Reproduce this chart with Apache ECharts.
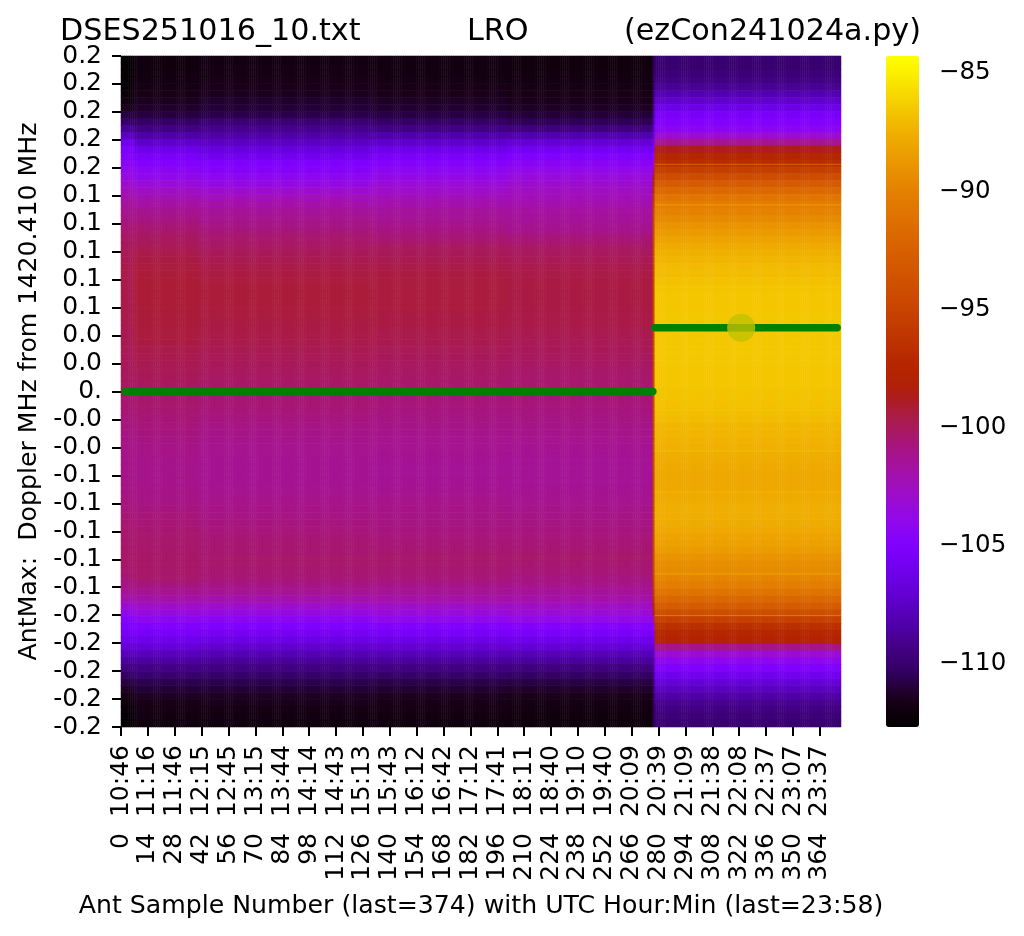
<!DOCTYPE html>
<html><head><meta charset="utf-8">
<style>html,body{margin:0;padding:0;background:#fff}#c{width:1024px;height:936px}</style>
<script src="https://cdn.jsdelivr.net/npm/echarts@6/dist/echarts.min.js"></script>
</head><body><div id="c"></div>
<script>
// Power (dB) by spectrum row, top row first for each block of samples.
const edgeSamples = [
-112.4,-112.4,-112.4,-112.4,-112.3,-112.1,-111.9,-111.5,-110.9,-110.2,
-108.9,-107.6,-106.0,-105.2,-104.8,-104.4,-104.0,-103.5,-102.9,-102.4,
-101.9,-101.5,-101.2,-100.9,-100.6,-100.4,-100.2,-100.0,-99.9,-99.8,
-99.7,-99.7,-99.7,-99.7,-99.7,-99.7,-99.7,-99.7,-99.7,-99.8,
-99.8,-99.8,-99.9,-99.9,-100.0,-100.0,-100.1,-100.2,-100.3,-100.4,
-100.5,-100.6,-100.7,-100.8,-100.9,-100.9,-101.0,-101.0,-101.0,-101.0,
-101.0,-101.0,-100.9,-100.9,-100.8,-100.7,-100.6,-100.5,-100.5,-100.4,
-100.4,-100.3,-100.3,-100.3,-100.4,-100.6,-100.9,-101.4,-102.0,-103.0,
-103.9,-104.7,-105.2,-105.6,-106.2,-107.0,-107.8,-108.7,-109.5,-110.2,
-110.8,-111.3,-111.7,-112.0,-112.2,-112.4,-112.4];
const earlySamples = [
-111.9,-111.9,-111.8,-111.8,-111.7,-111.6,-111.4,-111.2,-110.9,-110.2,
-109.4,-108.4,-107.3,-106.2,-105.4,-104.9,-104.4,-103.9,-103.3,-102.7,
-102.2,-101.7,-101.3,-100.9,-100.6,-100.3,-100.1,-99.9,-99.7,-99.5,
-99.4,-99.3,-99.2,-99.2,-99.2,-99.2,-99.3,-99.3,-99.3,-99.4,
-99.4,-99.5,-99.6,-99.7,-99.8,-99.9,-100.0,-100.1,-100.2,-100.3,
-100.4,-100.5,-100.6,-100.7,-100.8,-100.9,-101.0,-101.0,-101.1,-101.1,
-101.1,-101.1,-101.0,-101.0,-100.9,-100.8,-100.7,-100.6,-100.5,-100.4,
-100.4,-100.3,-100.3,-100.3,-100.3,-100.4,-100.8,-101.3,-101.9,-102.7,
-103.5,-104.3,-104.9,-105.5,-106.1,-106.9,-107.7,-108.6,-109.4,-110.0,
-110.6,-111.0,-111.3,-111.6,-111.7,-111.8,-111.9];
const midSamples = [
-111.8,-111.7,-111.7,-111.6,-111.5,-111.4,-111.2,-111.0,-110.7,-109.9,
-109.1,-108.4,-107.6,-106.7,-105.9,-105.1,-104.7,-104.2,-103.6,-103.0,
-102.4,-101.9,-101.5,-101.2,-100.9,-100.6,-100.4,-100.2,-100.0,-99.8,
-99.6,-99.5,-99.4,-99.3,-99.3,-99.3,-99.4,-99.4,-99.5,-99.5,
-99.6,-99.7,-99.8,-99.9,-100.0,-100.1,-100.2,-100.3,-100.4,-100.5,
-100.6,-100.7,-100.8,-100.9,-101.0,-101.1,-101.2,-101.2,-101.3,-101.3,
-101.3,-101.3,-101.2,-101.2,-101.1,-101.0,-100.9,-100.8,-100.7,-100.6,
-100.5,-100.5,-100.4,-100.4,-100.5,-100.6,-100.9,-101.4,-102.0,-102.8,
-103.6,-104.4,-105.0,-105.7,-106.4,-107.2,-108.0,-108.8,-109.5,-110.1,
-110.6,-111.0,-111.3,-111.5,-111.7,-111.8,-111.9];
const laterSamples = [
-111.8,-111.8,-111.8,-111.7,-111.6,-111.5,-111.3,-111.1,-110.8,-110.2,
-109.4,-108.3,-107.3,-106.2,-105.4,-104.8,-104.3,-103.8,-103.3,-102.8,
-102.4,-102.0,-101.6,-101.4,-101.1,-100.8,-100.5,-100.2,-100.0,-99.8,
-99.6,-99.5,-99.4,-99.4,-99.4,-99.4,-99.4,-99.5,-99.5,-99.6,
-99.7,-99.8,-99.9,-100.0,-100.1,-100.2,-100.3,-100.4,-100.5,-100.6,
-100.7,-100.8,-100.9,-101.0,-101.1,-101.2,-101.2,-101.3,-101.3,-101.4,
-101.4,-101.3,-101.3,-101.2,-101.1,-101.0,-100.9,-100.9,-100.8,-100.7,
-100.6,-100.5,-100.4,-100.4,-100.5,-100.7,-101.0,-101.4,-101.9,-102.7,
-103.4,-104.1,-104.9,-105.5,-106.3,-107.1,-107.9,-108.7,-109.5,-110.1,
-110.7,-111.1,-111.4,-111.6,-111.7,-111.8,-111.9];
const lateSamples = [
-111.9,-111.9,-111.8,-111.8,-111.7,-111.6,-111.5,-111.3,-111.0,-110.5,
-109.6,-108.2,-107.0,-105.8,-105.0,-104.5,-103.9,-103.4,-103.0,-102.6,
-102.3,-102.0,-101.7,-101.5,-101.3,-101.0,-100.6,-100.3,-100.1,-99.9,
-99.7,-99.6,-99.5,-99.5,-99.5,-99.5,-99.5,-99.6,-99.6,-99.7,
-99.8,-99.9,-100.0,-100.1,-100.2,-100.3,-100.4,-100.4,-100.5,-100.6,
-100.7,-100.8,-100.9,-101.0,-101.1,-101.2,-101.3,-101.3,-101.4,-101.4,
-101.4,-101.4,-101.3,-101.3,-101.2,-101.1,-101.0,-100.9,-100.8,-100.7,
-100.6,-100.5,-100.4,-100.5,-100.6,-100.8,-101.1,-101.5,-101.9,-102.6,
-103.2,-103.9,-104.8,-105.4,-106.2,-107.0,-107.9,-108.7,-109.6,-110.2,
-110.8,-111.2,-111.5,-111.7,-111.8,-111.9,-112.0];
const switchSample = [
-110.6,-110.6,-110.5,-110.4,-110.3,-110.1,-109.8,-109.4,-108.9,-108.4,
-107.6,-106.8,-105.8,-104.8,-104.0,-102.8,-100.8,-98.8,-97.6,-96.8,
-96.0,-95.6,-95.2,-95.0,-95.0,-94.8,-94.8,-94.8,-94.8,-94.8,
-94.8,-94.8,-94.8,-94.8,-94.8,-94.8,-94.8,-94.8,-94.8,-94.8,
-94.8,-94.8,-94.8,-94.8,-94.8,-94.8,-94.8,-94.8,-94.8,-94.8,
-94.8,-94.8,-94.8,-94.8,-94.8,-94.8,-94.8,-94.8,-94.8,-94.8,
-94.8,-94.8,-94.8,-94.8,-94.8,-94.8,-94.8,-94.8,-94.8,-94.8,
-94.8,-94.8,-94.8,-94.8,-95.0,-95.2,-95.6,-96.0,-96.6,-97.6,
-99.0,-101.2,-103.6,-105.0,-105.8,-106.8,-107.6,-108.4,-109.0,-109.5,
-109.9,-110.2,-110.4,-110.5,-110.6,-110.6,-110.6];
const finalSamples = [
-110.0,-110.0,-109.8,-109.4,-108.9,-108.1,-107.2,-106.2,-105.4,-104.9,
-104.4,-103.2,-101.2,-98.6,-97.4,-96.9,-95.5,-94.2,-93.0,-91.9,
-90.9,-90.3,-89.9,-89.5,-89.0,-88.6,-88.2,-87.8,-87.5,-87.3,
-87.1,-87.0,-86.8,-86.7,-86.6,-86.6,-86.6,-86.5,-86.5,-86.5,
-86.5,-86.5,-86.5,-86.5,-86.5,-86.6,-86.6,-86.6,-86.7,-86.7,
-86.8,-86.9,-87.0,-87.2,-87.3,-87.4,-87.5,-87.6,-87.7,-87.8,
-87.9,-87.9,-87.9,-87.8,-87.7,-87.6,-87.6,-87.7,-87.9,-88.1,
-88.3,-88.6,-89.0,-89.3,-89.5,-89.8,-90.2,-91.0,-92.0,-93.0,
-94.2,-95.4,-96.6,-97.4,-97.8,-101.0,-103.2,-104.2,-105.0,-105.9,
-106.8,-107.6,-108.4,-109.0,-109.5,-109.8,-110.0];
// Last sample number of each block above.
const blockEnds = [6, 40, 130, 200, 276, 277, 374];
const blockRows = [edgeSamples, earlySamples, midSamples, laterSamples, lateSamples, switchSample, finalSamples];

const sampleTicks = [0,14,28,42,56,70,84,98,112,126,140,154,168,182,196,210,224,238,252,266,280,294,308,322,336,350,364];
const timeLabels = ['10:46','11:16','11:46','12:15','12:45','13:15','13:44','14:14','14:43','15:13','15:43','16:12','16:42','17:12','17:41','18:11','18:40','19:10','19:40','20:09','20:39','21:09','21:38','22:08','22:37','23:07','23:37'];
const dopplerLabels = ['0.2','0.2','0.2','0.2','0.2','0.1','0.1','0.1','0.1','0.1','0.0','0.0','0.','-0.0','-0.0','-0.1','-0.1','-0.1','-0.1','-0.1','-0.2','-0.2','-0.2','-0.2','-0.2'];
const colorbarTicks = [-110,-105,-100,-95,-90,-85];
// Peak-frequency track: [sample, Doppler MHz]
const trackBefore = [[2,0],[277,0]];
const trackAfter = [[278,0.0475],[373,0.0475]];
const peakMark = [[323,0.0475]];
const brightRows = [0.1693,0.139,0.0779,-0.0138,-0.0443,-0.0749,-0.136,-0.167];

const colorAnchors = [
[-112.67,'#000000'],[-111.5,'#1a0018'],[-110.5,'#2e0058'],[-110,'#3a0070'],[-109,'#480090'],
[-108,'#5400b4'],[-107,'#6400d4'],[-106,'#7000ec'],[-105,'#8000ff'],[-104,'#9008ec'],
[-103,'#9c0cd0'],[-102,'#a410ac'],[-101,'#a61488'],[-100.3,'#a81868'],[-99.5,'#aa1c44'],
[-99,'#ac1c2c'],[-98.3,'#b02008'],[-97.5,'#b42400'],[-95,'#c84400'],[-92.5,'#d86000'],
[-90,'#e48000'],[-87.5,'#f0b000'],[-86.5,'#f4c800'],[-85,'#fcf000'],[-84.28,'#ffff00']];
const vMin = -112.67, vMax = -84.28;

function rgb(h){return [1,3,5].map(i=>parseInt(h.substr(i,2),16));}
const ramp = [];
for (let i=0;i<=113;i++){
  const v = vMin+(vMax-vMin)*i/113;
  let k=0; while(k<colorAnchors.length-2 && colorAnchors[k+1][0]<v) k++;
  const a=colorAnchors[k], b=colorAnchors[k+1], t=(v-a[0])/(b[0]-a[0]);
  const ca=rgb(a[1]), cb=rgb(b[1]);
  ramp.push('rgb('+ca.map((c,j)=>Math.round(c+(cb[j]-c)*t)).join(',')+')');
}

const nCols = 375, nRows = edgeSamples.length;
const cols = Array.from({length:nCols},(_,i)=>String(i));
const rows = Array.from({length:nRows},(_,i)=>String(i));
const cells = [];
let block = 0;
for (let c=0;c<nCols;c++){
  while (c>blockEnds[block]) block++;
  for (let r=0;r<nRows;r++) cells.push([c,r,blockRows[block][r]]);
}
const brightData = [];
brightRows.forEach(v=>{brightData.push([278,v],[375,v],[NaN,NaN]);});

const font = 'DejaVu Sans';
const titleStyle = {fontFamily:font,fontSize:30.2,fontWeight:'normal',color:'#000'};
const tick = {show:true,length:9,lineStyle:{color:'#000',width:2}};
const chart = echarts.init(document.getElementById('c'),null,{renderer:'canvas'});
chart.setOption({
  animation:false,
  backgroundColor:'#fff',
  title:[
    {text:'DSES251016_10.txt',left:60,top:17,textStyle:titleStyle,padding:0},
    {text:'LRO',left:467,top:17,textStyle:titleStyle,padding:0},
    {text:'(ezCon241024a.py)',left:624,top:17,textStyle:titleStyle,padding:0}
  ],
  grid:[
    {left:121,top:56,width:720,height:671,outerBoundsMode:'none'},
    {left:886,top:56,width:33,height:671,outerBoundsMode:'none'}
  ],
  xAxis:[
    {type:'category',gridIndex:0,data:cols,show:false},
    {type:'value',gridIndex:0,min:0,max:375,position:'bottom',splitLine:{show:false},axisLine:{show:false},
     axisTick:Object.assign({customValues:sampleTicks},tick),
     axisLabel:{customValues:sampleTicks,rotate:90,margin:18,fontFamily:font,fontSize:25,color:'#000',
       formatter:v=>timeLabels[sampleTicks.indexOf(v)]}},
    {type:'value',gridIndex:0,min:0,max:375,position:'bottom',offset:88,splitLine:{show:false},axisLine:{show:false},
     axisTick:{show:false},
     axisLabel:{customValues:sampleTicks,rotate:90,margin:18,fontFamily:font,fontSize:25,color:'#000',
       formatter:v=>String(v)},
     name:'Ant Sample Number (last=374) with UTC Hour:Min (last=23:58)',nameLocation:'middle',nameGap:79,
     nameTextStyle:{fontFamily:font,fontSize:25.2,color:'#000'}},
    {type:'value',gridIndex:1,min:0,max:1,show:false}
  ],
  yAxis:[
    {type:'category',gridIndex:0,data:rows,inverse:true,show:false},
    {type:'category',gridIndex:0,data:dopplerLabels,inverse:true,boundaryGap:false,position:'left',
     splitLine:{show:false},axisLine:{show:false},axisTick:Object.assign({alignWithLabel:true,interval:0},tick),
     axisLabel:{interval:0,margin:19,fontFamily:font,fontSize:25,color:'#000',showMinLabel:true,showMaxLabel:true},
     name:'AntMax:  Doppler MHz from 1420.410 MHz',nameLocation:'middle',nameGap:78,
     nameTextStyle:{fontFamily:font,fontSize:25.2,color:'#000'}},
    {type:'value',gridIndex:0,min:-0.25,max:0.25,show:false},
    {type:'value',gridIndex:1,min:vMin,max:vMax,position:'right',splitLine:{show:false},axisLine:{show:false},
     axisTick:Object.assign({customValues:colorbarTicks},tick),
     axisLabel:{customValues:colorbarTicks,margin:20,fontFamily:font,fontSize:24.5,color:'#000',
       formatter:v=>'\u2212'+Math.abs(v)}}
  ],
  visualMap:{type:'continuous',seriesIndex:0,dimension:2,min:vMin,max:vMax,calculable:false,
    left:886,top:56,itemWidth:33,itemHeight:671,padding:0,text:null,inRange:{color:ramp}},
  series:[
    {type:'heatmap',xAxisIndex:0,yAxisIndex:0,data:cells,progressive:0,silent:true,
     itemStyle:{borderWidth:0},emphasis:{disabled:true}},
    {type:'line',xAxisIndex:1,yAxisIndex:2,data:brightData,symbol:'none',silent:true,connectNulls:false,
     lineStyle:{color:'rgba(255,215,0,0.35)',width:1},z:3},
    {type:'line',xAxisIndex:1,yAxisIndex:2,data:trackBefore,symbol:'none',silent:true,
     lineStyle:{color:'#008000',width:7.5,cap:'round'},z:4},
    {type:'line',xAxisIndex:1,yAxisIndex:2,data:trackAfter,symbol:'none',silent:true,
     lineStyle:{color:'#008000',width:7.5,cap:'round'},z:4},
    {type:'scatter',xAxisIndex:1,yAxisIndex:2,data:peakMark,symbol:'circle',symbolSize:28,silent:true,
     itemStyle:{color:'#c0c000'},z:5}
  ]
});
</script></body></html>
